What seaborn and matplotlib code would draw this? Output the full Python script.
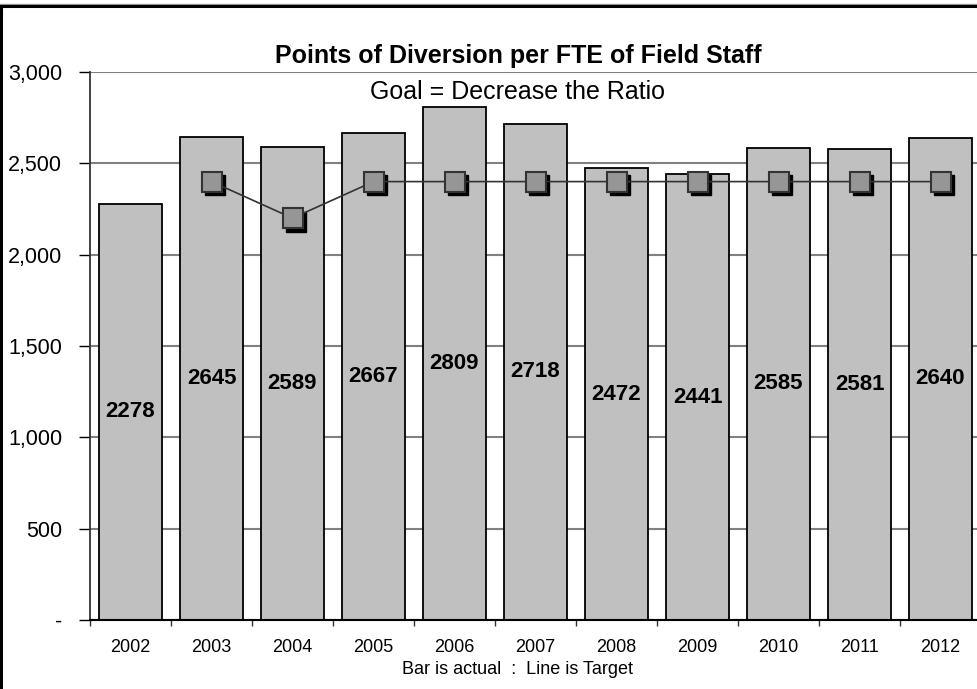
import numpy as np
import pandas as pd
import seaborn as sns
import matplotlib.pyplot as plt
from matplotlib.transforms import offset_copy
from matplotlib.ticker import FuncFormatter

# Data
years = ['2002', '2003', '2004', '2005', '2006', '2007',
         '2008', '2009', '2010', '2011', '2012']
actual = [2278, 2645, 2589, 2667, 2809, 2718, 2472, 2441, 2585, 2581, 2640]
target = [np.nan, 2400, 2200, 2400, 2400, 2400, 2400, 2400, 2400, 2400, 2400]

df = pd.DataFrame({'year': years, 'actual': actual, 'target': target})

sns.set_style('white')
plt.rcParams['font.family'] = ['Liberation Sans', 'DejaVu Sans']
plt.rcParams['text.color'] = 'black'
plt.rcParams['xtick.color'] = 'black'
plt.rcParams['ytick.color'] = 'black'

fig = plt.figure(figsize=(9.77, 6.89), dpi=100)
ax = fig.add_axes([90 / 977, 69 / 689, 891 / 977, 548 / 689])

# frame around the chart (top and left edges visible)
fig.add_artist(plt.Line2D([0, 1], [1 - 3.5 / 689, 1 - 3.5 / 689], color='#999999', lw=1))
fig.add_artist(plt.Line2D([0, 1], [1 - 5.5 / 689, 1 - 5.5 / 689], color='black', lw=2.2))
fig.add_artist(plt.Line2D([1 / 977, 1 / 977], [0, 1 - 5.5 / 689], color='black', lw=2.2))

sns.barplot(data=df, x='year', y='actual', color='#C0C0C0', edgecolor='black',
            linewidth=1.3, width=0.77, saturation=1, ax=ax, zorder=2)

xs = np.arange(len(years))
shadow = offset_copy(ax.transData, fig=fig, x=2.5, y=-2.5, units='points')
ax.plot(xs, df['target'], ls='none', marker='s', markersize=14, color='black',
        transform=shadow, zorder=3)
ax.plot(xs, df['target'], color='#333333', lw=1.2, marker='s', markersize=14,
        markerfacecolor='#969696', markeredgecolor='#333333', markeredgewidth=1.5,
        zorder=4)

# value labels at mid-height of bars
for i, v in enumerate(actual):
    ax.text(i, v / 2, str(v), ha='center', va='center', fontsize=16,
            fontweight='bold', zorder=5)

ax.set_xlim(-0.5, len(years) - 0.5)
ax.set_ylim(0, 3000)
ax.set_yticks(range(0, 3001, 500))
ax.yaxis.set_major_formatter(FuncFormatter(lambda v, p: '-' if v == 0 else f'{int(v):,}'))
ax.set_xticks(np.arange(-0.5, len(years), 1), minor=True)
ax.tick_params(axis='x', which='major', length=0, labelsize=13, pad=13.5)
ax.tick_params(axis='x', which='minor', length=4, width=1, color='#333333', direction='out')
ax.tick_params(axis='y', length=8, width=1, color='black', direction='out',
               labelsize=15.5, pad=12)
ax.xaxis.set_ticks_position('bottom')
ax.yaxis.set_ticks_position('left')

ax.grid(axis='y', color='#808080', lw=1.5, zorder=0)
ax.set_axisbelow(True)
for s in ['top', 'right']:
    ax.spines[s].set_visible(False)
ax.spines['left'].set_color('#333333')
ax.spines['left'].set_linewidth(1.3)
ax.spines['bottom'].set_color('black')
ax.spines['bottom'].set_linewidth(1.5)
ax.set_xlabel('')
ax.set_ylabel('')

fig.text(518 / 977, 1 - 56 / 689, 'Points of Diversion per FTE of Field Staff',
         ha='center', va='center', fontsize=18, fontweight='bold')
fig.text(518 / 977, 1 - 92 / 689, 'Goal = Decrease the Ratio',
         ha='center', va='center', fontsize=18)
fig.text(518 / 977, 1 - 670 / 689, 'Bar is actual  :  Line is Target',
         ha='center', va='center', fontsize=13)

fig.savefig('out.png', dpi=100)
